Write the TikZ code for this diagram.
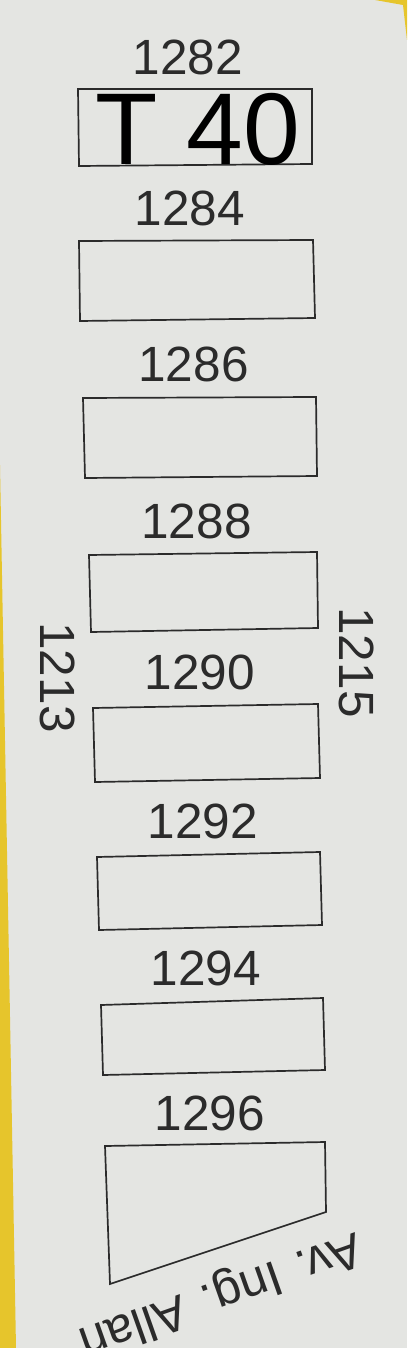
\documentclass[tikz,border=0pt]{standalone}
\usepackage{fontspec}
\setmainfont{Liberation Sans}
\definecolor{paper}{HTML}{E4E5E2}
\definecolor{ink}{HTML}{2B2B2B}
\definecolor{tape}{HTML}{E6C52C}
\begin{document}
\begin{tikzpicture}[x=1pt,y=-1pt,
  lab/.style={font=\fontsize{49.5pt}{50pt}\selectfont, inner sep=0pt, text=ink},
  lot/.style={draw=ink, line width=1.7pt, line join=miter}]
\fill[paper] (0,0) rectangle (407,1348);
\useasboundingbox (0,0) rectangle (407,1348);
\fill[tape] (0,465) -- (16,1348) -- (0,1348) -- cycle;
\fill[tape] (375,0) -- (407,0) -- (407,40) -- (403,5) -- cycle;
% lots
\draw[lot] (78,89) -- (312,89) -- (312,164) -- (79,166) -- cycle;
\draw[lot] (79,241) -- (313,240) -- (315,318) -- (80,321) -- cycle;
\draw[lot] (83,398) -- (316,397) -- (317,476) -- (85,478) -- cycle;
\draw[lot] (89,555) -- (317,552) -- (318,628) -- (91,632) -- cycle;
\draw[lot] (93,708) -- (318,704) -- (320,778) -- (95,782) -- cycle;
\draw[lot] (97,857) -- (320,852) -- (322,925) -- (99,930) -- cycle;
\draw[lot] (101,1005) -- (323,998) -- (325,1070) -- (103,1075) -- cycle;
\draw[lot] (105,1146) -- (325,1142) -- (326,1212) -- (110,1284) -- cycle;
% numbers
\node[lab] (n1282) at (188,57) {1282};
\node[lab] (n1284) at (190,208.5) {1284};
\node[lab] (n1286) at (193.5,364) {1286};
\node[lab] (n1288) at (196.5,521) {1288};
\node[lab] (n1290) at (200,672.5) {1290};
\node[lab] (n1292) at (203,821.5) {1292};
\node[lab] (n1294) at (206,968.5) {1294};
\node[lab] (n1296) at (210,1113.5) {1296};
\node[lab, rotate=-90] (n1213) at (58,677.5) {1213};
\node[lab, rotate=-90] (n1215) at (357,662.5) {1215};
\node[font=\fontsize{102pt}{102pt}\selectfont, inner sep=0pt, anchor=base, text=black] (t40) at (198,165) {T 40};
\node[lab, anchor=base west, rotate=199.5] (av) at (356,1232) {Av. Ing. Allan};
\end{tikzpicture}
\end{document}
